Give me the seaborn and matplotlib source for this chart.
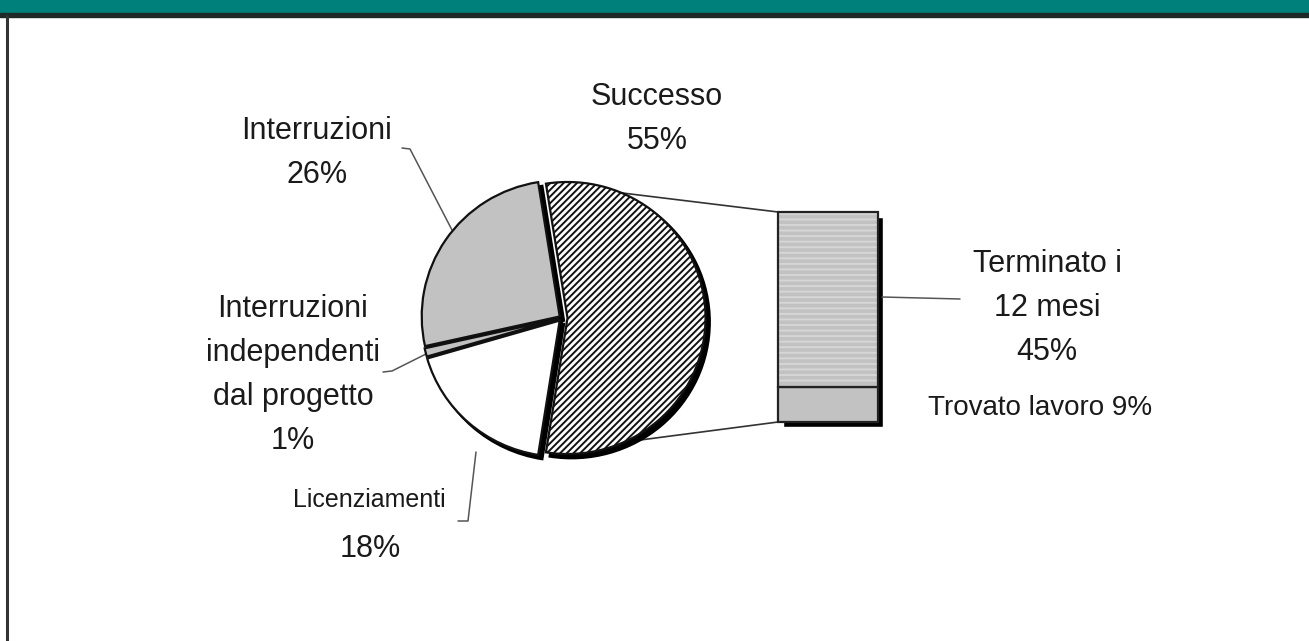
import numpy as np
import seaborn as sns
import matplotlib.pyplot as plt

sns.set_theme(style="white")
plt.rcParams['font.family'] = ['Liberation Sans', 'DejaVu Sans']
plt.rcParams['hatch.linewidth'] = 1.4

# pie data
pie_labels = ["Successo", "Interruzioni", "Interruzioni\nindependenti\ndal progetto", "Licenziamenti"]
pie_values = [55, 26, 1, 18]
pie_colors = ["white", "#c2c2c2", "#c2c2c2", "white"]
pie_hatch = ["/////", "", "", ""]
pie_explode = [0.04, 0.02, 0.02, 0.025]

# bar of pie data (split of "Successo")
bar_labels = ["Trovato lavoro", "Terminato i\n12 mesi"]
bar_values = [9, 45]

W, H = 1309, 641
fig = plt.figure(figsize=(W / 100, H / 100), dpi=100)
ax = fig.add_axes([0, 0, 1, 1])

# pie in its own axes, slightly wider than tall like the original
cx, cy = 562, H - 318
rx, ry = 138, 136
lim = 1.3
axp = fig.add_axes([(cx - lim * rx) / W, (cy - lim * ry) / H,
                    2 * lim * rx / W, 2 * lim * ry / H])
axp.patch.set_alpha(0)
start = -pie_values[0] / 100 * 180

# shadow
axp.pie(pie_values, startangle=start, center=(4 / rx, -4 / ry),
        explode=pie_explode, colors=["black"] * 4,
        wedgeprops=dict(edgecolor="black", linewidth=2))
axp.pie(pie_values, startangle=start, explode=pie_explode,
        colors=pie_colors, hatch=pie_hatch,
        wedgeprops=dict(edgecolor="#111111", linewidth=1.6))
axp.set_aspect("auto")
axp.set_xlim(-lim, lim)
axp.set_ylim(-lim, lim)
axp.axis("off")

# bar of pie
bx, bw = 828, 100
b_top, b_bot = H - 212, H - 422
scale = (b_top - b_bot) / sum(bar_values)
bottoms = np.concatenate([[0], np.cumsum(bar_values)[:-1]]) * scale + b_bot
heights = np.array(bar_values) * scale
ax.bar([bx + 5], [sum(heights)], bottom=b_bot - 5, width=bw, color="black")
ax.bar([bx, bx], heights, bottom=bottoms, width=bw, color="#c2c2c2",
       edgecolor="#d6d6d6", linewidth=0, hatch=["", "---"])
ax.bar([bx, bx], heights, bottom=bottoms, width=bw, fill=False,
       edgecolor="#222222", linewidth=1.6)

# connector lines pie -> bar
sx = cx + pie_explode[0] * rx
a1 = np.deg2rad(start + pie_values[0] / 100 * 360)
a0 = np.deg2rad(start)
ax.plot([sx + rx * np.cos(a1), bx - bw / 2], [cy + ry * np.sin(a1), b_top], color="#333333", lw=1.2, zorder=0)
ax.plot([sx + rx * np.cos(a0), bx - bw / 2], [cy + ry * np.sin(a0), b_bot], color="#333333", lw=1.2, zorder=0)

# labels
txt = dict(ha="center", va="center", color="#1a1a1a", linespacing=1.62)
ax.text(657, H - 119, f"{pie_labels[0]}\n{pie_values[0]}%", fontsize=22, **txt)
ax.text(317, H - 153, f"{pie_labels[1]}\n{pie_values[1]}%", fontsize=22, **txt)
ax.text(293, H - 375, f"{pie_labels[2]}\n{pie_values[2]}%", fontsize=22, **txt)
ax.text(369, H - 500, pie_labels[3], fontsize=18, **txt)
ax.text(370, H - 549, f"{pie_values[3]}%", fontsize=22, **txt)
ax.text(1047, H - 308, f"{bar_labels[1]}\n{bar_values[1]}%", fontsize=22, **txt)
ax.text(1040, H - 408, f"{bar_labels[0]} {bar_values[0]}%", fontsize=20, **txt)

# leader lines
lc = dict(color="#555555", lw=1.1)
ax.plot([402, 410, 452], [H - 148, H - 149, H - 230], **lc)
ax.plot([383, 392, 430], [H - 372, H - 371, H - 352], **lc)
ax.plot([458, 468, 476], [H - 521, H - 521, H - 452], **lc)
ax.plot([882, 960], [H - 297, H - 299], **lc)

# header bar and frame
ax.fill_between([0, W], H - 13, H, color="#00807a")
ax.fill_between([0, W], H - 16.5, H - 13, color="#1e2a28")
ax.plot([7, 7], [0, H - 16], color="#333333", lw=2.2)

ax.set_xlim(0, W)
ax.set_ylim(0, H)
ax.axis("off")

plt.savefig("out.png", dpi=100)
